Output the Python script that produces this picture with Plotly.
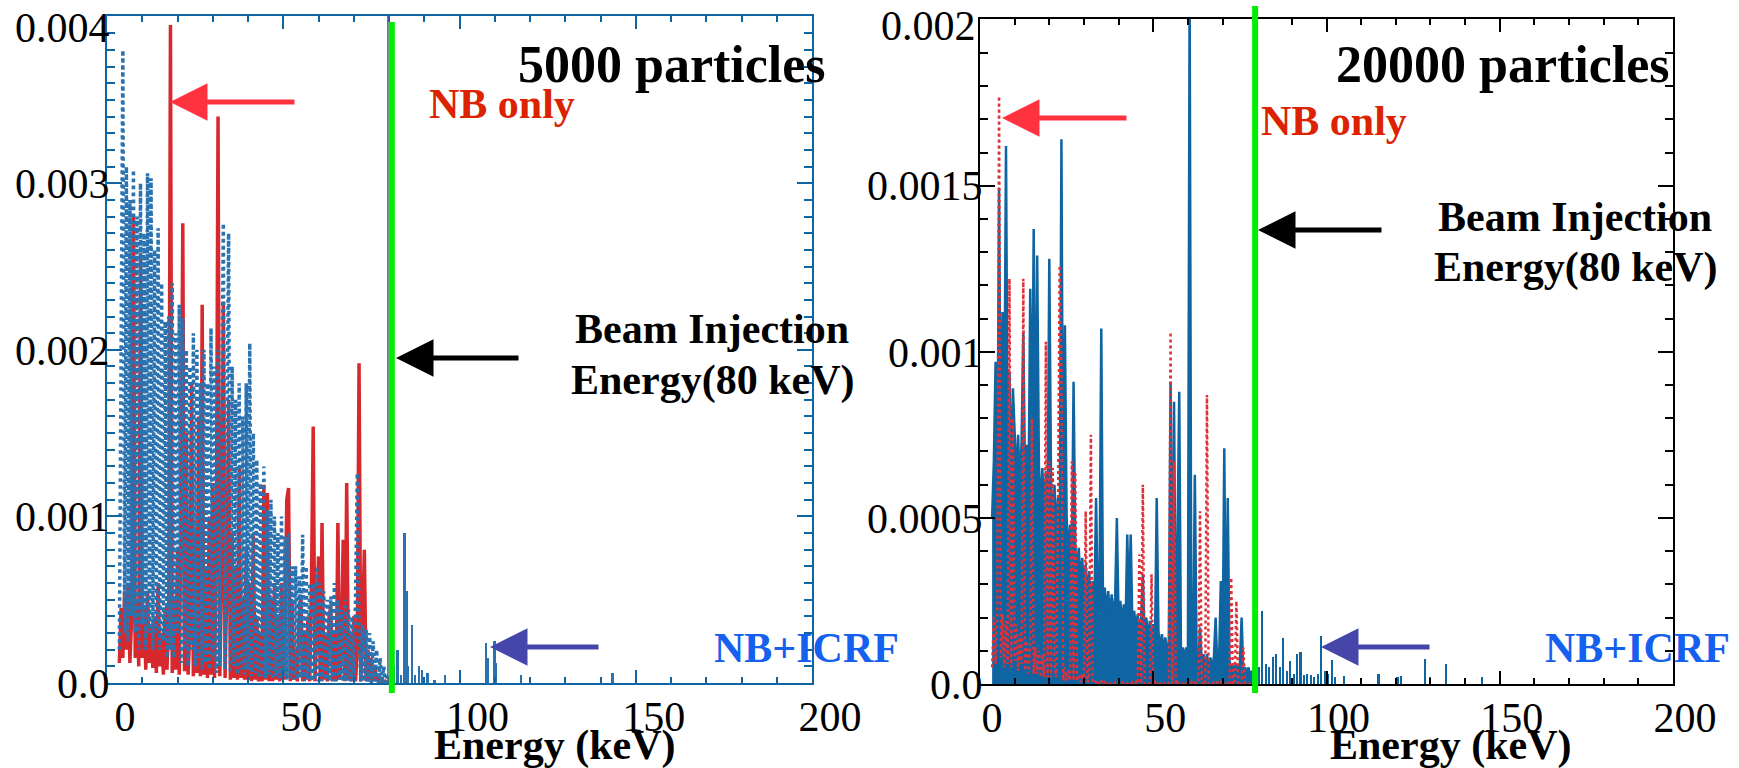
import numpy as np
import plotly.graph_objects as go

W, H = 1739, 768
SCALE = 1e-4  # all spectrum values below are in units of 1e-4

# energy bins (keV), 0.5 keV wide, 3.5 ... 79.5
energy = np.round(np.arange(3.5, 80.0, 0.5), 2)

# ---------------- 5000 particles ----------------
nb_only_5000 = [
    1.2, 4.5, 1.5, 5.5, 2.0, 6.0, 1.2, 4.0, 28.0, 1.5,
    5.0, 1.0, 25.8, 1.5, 4.5, 0.8, 5.5, 1.2, 3.5, 0.9,
    4.0, 0.6, 6.0, 1.0, 3.0, 0.5, 4.5, 0.8, 3.5, 39.5,
    0.6, 5.0, 0.8, 8.0, 0.5, 10.0, 27.6, 0.7, 15.0, 0.5,
    3.0, 18.0, 0.4, 9.0, 0.6, 16.0, 0.4, 22.7, 0.5, 7.0,
    0.3, 10.0, 0.5, 12.0, 0.3, 8.0, 34.0, 0.4, 6.0, 22.9,
    0.3, 6.0, 17.0, 0.2, 9.0, 0.3, 7.0, 0.2, 13.0, 0.3,
    5.0, 0.2, 8.0, 0.2, 6.0, 0.1, 9.0, 0.2, 4.0, 0.1,
    3.0, 0.1, 11.9, 0.2, 11.4, 0.1, 5.0, 0.1, 6.0, 0.2,
    4.0, 0.1, 6.0, 0.2, 3.0, 11.0, 11.7, 0.1, 5.0, 0.2,
    2.0, 0.1, 4.0, 5.3, 0.1, 3.0, 0.2, 4.0, 0.1, 6.0,
    15.4, 0.1, 3.0, 7.6, 0.1, 9.6, 0.2, 3.0, 0.1, 4.0,
    4.6, 0.1, 3.0, 0.1, 9.6, 0.2, 2.0, 8.6, 0.1, 12.0,
    0.2, 3.0, 0.1, 4.0, 0.1, 2.0, 19.2, 0.1, 3.0, 8.0,
    0.1, 2.0, 0.1, 1.5, 0.1, 1.0, 0.1, 0.5, 0.0, 0.3,
    0.0, 0.1, 0.0,
]
nb_icrf_5000 = [
    2.0, 25.0, 38.0, 3.0, 31.0, 2.5, 29.0, 4.0, 30.8, 3.0,
    28.0, 2.0, 30.0, 3.5, 27.0, 2.0, 30.6, 3.0, 30.3, 2.0,
    26.0, 3.0, 27.3, 2.0, 24.0, 2.5, 21.7, 1.5, 22.0, 2.0,
    24.0, 1.5, 21.0, 3.0, 22.7, 1.2, 21.9, 2.0, 20.0, 1.0,
    19.0, 2.0, 21.0, 1.0, 20.0, 1.5, 18.0, 0.8, 20.0, 1.2,
    18.0, 0.8, 21.3, 1.5, 19.0, 0.6, 20.0, 1.0, 17.0, 27.6,
    0.8, 18.0, 27.0, 0.6, 19.0, 1.0, 17.0, 0.5, 18.0, 0.8,
    16.0, 0.5, 18.0, 0.8, 20.4, 0.4, 15.0, 0.6, 13.4, 0.3,
    12.0, 0.4, 13.0, 0.3, 10.4, 0.5, 11.0, 0.2, 10.0, 0.4,
    9.0, 0.3, 10.0, 0.4, 8.8, 0.2, 9.0, 0.3, 7.0, 0.2,
    7.0, 0.2, 6.4, 0.3, 8.9, 0.1, 7.0, 0.2, 6.0, 0.1,
    6.0, 0.2, 7.0, 0.1, 6.0, 0.1, 5.5, 0.2, 5.0, 0.1,
    5.2, 0.1, 6.0, 0.1, 5.0, 0.2, 4.4, 0.1, 5.0, 0.1,
    4.4, 0.1, 4.0, 0.1, 5.0, 12.6, 3.0, 0.1, 3.5, 0.1,
    3.2, 0.1, 3.0, 0.0, 2.5, 0.1, 2.0, 0.0, 1.5, 0.0,
    1.0, 0.0, 0.5,
]
tail_5000_energy = [80.5, 81.5, 82.5, 83.5, 84.5, 85.0, 85.5, 86.5, 87.5, 88.5,
                    89.5, 91.0, 93.0, 96.0, 107.5, 108.0, 110.0, 110.5, 117.5, 143.5]
tail_5000_icrf = [0.3, 1.0, 2.0, 0.5, 9.0, 5.5, 1.0, 3.5, 0.5, 1.0,
                  0.8, 0.6, 0.2, 0.5, 2.4, 1.5, 2.5, 1.2, 0.5, 0.6]

# ---------------- 20000 particles ----------------
nb_only_20000 = [
    0.5, 2.0, 0.6, 2.4, 17.7, 0.8, 2.1, 0.5, 1.9, 0.6,
    12.2, 0.5, 8.0, 0.7, 1.8, 0.4, 1.5, 0.6, 12.2, 0.4,
    1.3, 0.3, 1.2, 8.0, 0.3, 1.1, 0.3, 1.0, 0.2, 0.9,
    0.2, 10.3, 0.2, 6.7, 0.2, 6.5, 0.6, 0.2, 5.0, 12.6,
    9.6, 0.1, 0.5, 0.1, 0.4, 0.1, 6.7, 0.1, 6.4, 0.1,
    0.3, 0.05, 0.3, 0.05, 5.2, 0.05, 0.2, 7.5, 0.05, 0.1,
    0.05, 0.1, 0.0, 0.1, 0.0, 0.05, 0.0, 0.05, 0.0, 0.05,
    0.0, 0.05, 0.0, 0.05, 0.0, 0.05, 0.0, 0.05, 0.0, 0.05,
    0.0, 0.05, 0.0, 0.05, 0.0, 3.9, 0.0, 6.0, 0.0, 0.05,
    0.0, 0.05, 3.3, 0.0, 0.05, 0.0, 0.05, 0.0, 0.05, 0.0,
    0.05, 0.0, 0.05, 10.6, 0.0, 6.7, 0.0, 0.05, 0.0, 0.05,
    0.0, 0.05, 0.0, 0.05, 0.0, 0.05, 0.0, 0.05, 0.0, 0.05,
    5.2, 0.0, 0.05, 0.0, 8.7, 0.0, 0.05, 0.0, 0.05, 0.0,
    0.05, 0.0, 0.05, 0.0, 0.05, 0.0, 0.05, 0.0, 3.2, 0.0,
    0.0, 2.5, 0.0, 0.05, 0.0, 1.1, 0.0, 0.0, 0.0, 0.0,
    0.0, 0.0, 0.0,
]
nb_icrf_20000 = [
    5.0, 6.7, 9.7, 5.5, 14.9, 6.0, 11.2, 7.4, 16.2, 6.5,
    9.4, 6.0, 8.9, 7.7, 6.2, 7.5, 5.8, 7.3, 10.6, 6.0,
    7.2, 5.5, 11.9, 6.8, 13.7, 5.4, 12.9, 6.6, 5.2, 6.5,
    5.0, 6.4, 4.9, 12.8, 6.2, 4.7, 6.0, 4.5, 5.6, 4.2,
    16.4, 4.0, 10.8, 5.0, 3.8, 4.8, 3.6, 9.1, 4.2, 3.3,
    4.1, 3.0, 3.8, 2.8, 3.6, 2.6, 3.4, 2.5, 3.1, 2.3,
    5.6, 2.3, 3.0, 10.7, 2.2, 2.9, 2.1, 2.8, 2.0, 2.7,
    2.0, 2.6, 5.0, 1.9, 2.5, 1.8, 2.4, 1.7, 4.5, 2.3,
    4.5, 1.6, 2.2, 1.6, 2.1, 1.5, 2.0, 3.3, 1.4, 2.0,
    1.3, 1.9, 1.2, 1.8, 1.2, 5.6, 1.6, 1.0, 1.5, 1.0,
    1.4, 0.9, 1.3, 9.1, 0.9, 8.5, 1.2, 4.4, 8.8, 0.8,
    1.1, 0.8, 1.1, 0.7, 21.0, 1.0, 0.6, 6.3, 1.0, 0.6,
    1.7, 0.6, 0.9, 0.5, 0.9, 0.5, 0.8, 0.5, 0.8, 2.0,
    0.5, 0.7, 3.1, 0.5, 7.1, 0.4, 5.6, 0.7, 0.4, 0.6,
    0.4, 0.6, 0.3, 0.6, 2.0, 0.3, 0.5, 0.3, 0.5, 0.2,
    0.4, 0.2, 0.3,
]
tail_20000_energy = [80.5, 81.5, 82.5, 83.5, 84.5, 85.5, 86.5, 87.5, 88.5, 89.5,
                     90.5, 91.5, 92.5, 93.5, 94.5, 95.5, 96.5, 97.5, 98.5, 99.5,
                     100.5, 101.5, 102.5, 105.0, 110.0, 115.0, 120.5, 121.5, 128.5, 130.0,
                     134.5, 145.0]
tail_20000_icrf = [0.5, 2.2, 0.6, 0.5, 0.8, 0.9, 0.5, 1.4, 0.4, 0.7,
                   0.3, 0.9, 0.97, 0.27, 0.3, 0.27, 0.2, 0.3, 1.44, 0.4,
                   0.3, 0.72, 0.2, 0.24, 0.17, 0.3, 0.22, 0.24, 0.74, 0.2,
                   0.6, 0.2]

BEAM_ENERGY = 80.0
x_ticks = [0, 50, 100, 150, 200]
y_ticks_5000 = [0, 0.001, 0.002, 0.003, 0.004]
y_text_5000 = ["0.0", "0.001", "0.002", "0.003", "0.004"]
y_ticks_20000 = [0, 0.0005, 0.001, 0.0015, 0.002]
y_text_20000 = ["0.0", "0.0005", "0.001", "0.0015", "0.002"]

for arr in (nb_only_5000, nb_icrf_5000, nb_only_20000, nb_icrf_20000):
    assert len(arr) == len(energy), len(arr)

def sc(a):
    return [v * SCALE for v in a]

RED = "#d7282d"
RED2 = "#e0303a"
BLUE = "#0f64a2"
BLUE_L = "#2a72b0"
FONT = "Liberation Serif"

fig = go.Figure()
# left panel: solid red first, dotted blue on top
fig.add_trace(go.Scatter(x=energy, y=sc(nb_only_5000), mode="lines",
                         line=dict(color=RED, width=3.5), xaxis="x", yaxis="y"))
fig.add_trace(go.Scatter(x=energy, y=sc(nb_icrf_5000), mode="lines",
                         line=dict(color=BLUE_L, width=3.5, dash="dot"), xaxis="x", yaxis="y"))
fig.add_trace(go.Bar(x=tail_5000_energy, y=sc(tail_5000_icrf), width=0.5,
                     marker=dict(color=BLUE_L, line=dict(width=0)), xaxis="x", yaxis="y"))
# right panel: solid blue first, dotted red on top
fig.add_trace(go.Scatter(x=energy, y=sc(nb_icrf_20000), mode="lines", fill="tozeroy",
                         fillcolor=BLUE, line=dict(color=BLUE, width=2.5),
                         xaxis="x2", yaxis="y2"))
fig.add_trace(go.Bar(x=tail_20000_energy, y=sc(tail_20000_icrf), width=0.6,
                     marker=dict(color=BLUE, line=dict(width=0)), xaxis="x2", yaxis="y2"))
fig.add_trace(go.Scatter(x=energy, y=sc(nb_only_20000), mode="lines",
                         line=dict(color=RED2, width=2.5, dash="dot"), xaxis="x2", yaxis="y2"))

def xaxis(domain, shift, color):
    return dict(domain=domain, range=[0, 200], tickvals=x_ticks, ticks="inside",
                ticklen=13, tickwidth=2, tickcolor=color, showline=True, linecolor=color,
                linewidth=2, mirror="ticks", showgrid=False, zeroline=False, automargin=False,
                tickfont=dict(family=FONT, size=42, color="black"),
                ticklabelshift=shift, ticklabelstandoff=-4, ticklabeloverflow="allow",
                minor=dict(dtick=10, tick0=0, ticks="inside", ticklen=6, tickwidth=2,
                           tickcolor=color))

def yaxis(domain, top, tv, tt, minor, color, anchor):
    # the topmost label is drawn as an annotation slightly lower (as in the original)
    return dict(domain=domain, range=[0, top * 1.001], tickvals=tv, ticktext=tt[:-1] + [""],
                ticks="inside", ticklen=15, tickwidth=2, tickcolor=color, showline=True,
                linecolor=color, linewidth=2, mirror="ticks", showgrid=False, zeroline=False,
                anchor=anchor, automargin=False, ticklabeloverflow="allow",
                tickfont=dict(family=FONT, size=42, color="black"), ticklabelstandoff=-13,
                minor=dict(dtick=minor, tick0=0, ticks="inside", ticklen=8, tickwidth=2,
                           tickcolor=color))

def px(x):
    return x / W

def py(y):
    return 1 - y / H

fig.update_layout(
    width=W, height=H, autosize=False,
    margin=dict(l=0, r=0, t=0, b=0, pad=0, autoexpand=False),
    paper_bgcolor="white", plot_bgcolor="white", showlegend=False, bargap=0,
    xaxis=dict(**xaxis([px(107), px(812)], 18, BLUE), anchor="y"),
    yaxis=yaxis([py(683), py(16)], 0.004, y_ticks_5000, y_text_5000, 0.0001, BLUE, "x"),
    xaxis2=dict(**xaxis([px(980), px(1673)], 12, "black"), anchor="y2"),
    yaxis2=yaxis([py(684), py(19)], 0.002, y_ticks_20000, y_text_20000, 0.0001, "black", "x2"),
)

shapes = [
    dict(type="line", xref="x", yref="paper", x0=79.7, x1=79.7, y0=py(683), y1=py(16),
         line=dict(color="#5a4f96", width=1.5)),
    dict(type="line", xref="x", yref="paper", x0=BEAM_ENERGY + 0.8, x1=BEAM_ENERGY + 0.8,
         y0=py(693), y1=py(22), line=dict(color="#00ee00", width=6)),
    dict(type="line", xref="x2", yref="paper", x0=BEAM_ENERGY - 0.6, x1=BEAM_ENERGY - 0.6,
         y0=py(693), y1=py(6), line=dict(color="#00ee00", width=6)),
]
fig.update_layout(shapes=shapes)

ann = []

def text(x, y, s, size, color, xanchor="center"):
    ann.append(dict(x=px(x), y=py(y), xref="paper", yref="paper", text=s, showarrow=False,
                    xanchor=xanchor, yanchor="middle",
                    font=dict(family=FONT, size=size, color=color)))

def arrow(xtip, y, length, color):
    ann.append(dict(x=px(xtip), y=py(y), xref="paper", yref="paper", text="",
                    showarrow=True, ax=length, ay=0, axref="pixel", ayref="pixel",
                    arrowhead=2, arrowsize=1.5, arrowwidth=5, arrowcolor=color))

# top y tick labels
text(112, 28, y_text_5000[-1], 42, "black", "right")
text(978, 26, y_text_20000[-1], 42, "black", "right")

# left panel texts
text(672, 64, "<b>5000 particles</b>", 52, "black")
text(502, 104, "<b>NB only</b>", 42, "#dc2200")
text(712, 329, "<b>Beam Injection</b>", 42, "black")
text(712, 380, "<b>Energy(80 keV)</b>", 42, "black")
text(806, 648, "<b>NB+ICRF</b>", 42, "#1560ee")
text(554, 745, "<b>Energy (keV)</b>", 42, "black")
# right panel texts
text(1503, 64, "<b>20000 particles</b>", 52, "black")
text(1334, 121, "<b>NB only</b>", 42, "#dc2200")
text(1575, 217, "<b>Beam Injection</b>", 42, "black")
text(1575, 267, "<b>Energy(80 keV)</b>", 42, "black")
text(1637, 648, "<b>NB+ICRF</b>", 42, "#1560ee")
text(1450, 745, "<b>Energy (keV)</b>", 42, "black")

arrow(170, 102, 126, "#ff3240")
arrow(396, 358, 124, "black")
arrow(490, 647, 110, "#4646aa")
arrow(1002, 118, 126, "#ff3240")
arrow(1258, 230, 125, "black")
arrow(1321, 647, 110, "#4646aa")

fig.update_layout(annotations=ann)
fig.write_html("out.html", include_plotlyjs=True, config={"displayModeBar": False})
